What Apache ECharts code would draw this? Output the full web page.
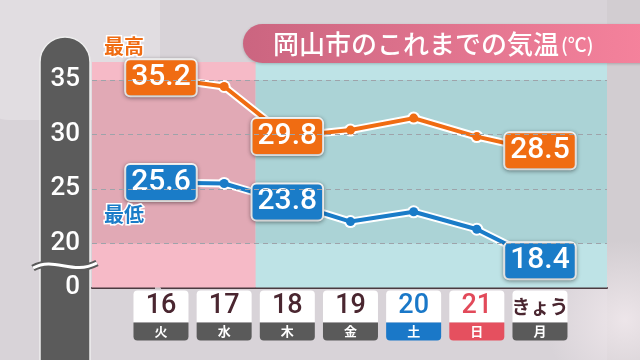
<!DOCTYPE html>
<html>
<head>
<meta charset="utf-8">
<script src="https://cdn.jsdelivr.net/npm/echarts@6/dist/echarts.min.js"></script>
<style>html,body{margin:0;padding:0;background:#d8d3d8;}#c{width:640px;height:360px;}</style>
</head>
<body>
<div id="c"></div>
<script>
// ---- data ----
const days = ['16', '17', '18', '19', '20', '21', 'きょう'];
const weekdays = ['火', '水', '木', '金', '土', '日', '月'];
const highs = [35.2, 34.4, 29.8, 30.4, 31.5, 29.8, 28.5];
const lows = [25.6, 25.5, 23.8, 22.0, 22.9, 21.3, 18.4];
const labeledIdx = [0, 2, 6];
const yTicks = [20, 25, 30, 35];
const yBreakLabel = '0';
const titleText = '岡山市のこれまでの気温';
const unitText = '(℃)';
const highName = '最高';
const lowName = '最低';

// ---- axis ranges ----
const X_MIN = -1.092, X_MAX = 7.061, SPLIT = 1.5;
const Y_MIN = 15.95, Y_MAX = 36.65;

const ORANGE = '#f06c12', BLUE = '#1a7cc8';
const NUMF = 'Roboto, "Noto Sans", sans-serif';
const JPF = '"Noto Sans CJK JP", sans-serif';

const idx = days.map((d, i) => i);
function pts(arr, color) {
  return arr.map((v, i) => {
    const o = { value: [i, v] };
    if (labeledIdx.indexOf(i) >= 0) {
      o.label = { show: true, backgroundColor: color };
    }
    return o;
  });
}
const labelBase = {
  show: false, position: 'inside', color: '#fff', fontSize: 30, fontWeight: 500,
  fontFamily: NUMF, borderColor: '#fff', borderWidth: 2, borderRadius: 4,
  padding: [3, 5, 1, 5], lineHeight: 31,
  shadowBlur: 4, shadowColor: 'rgba(0,0,0,0.35)', shadowOffsetY: 1,
  formatter: p => p.value[1].toFixed(1)
};

const chart = echarts.init(document.getElementById('c'));
chart.setOption({
  backgroundColor: '#d8d3d8',
  animation: false,
  grid: { left: 92, right: 33, top: 62, bottom: 72.5 },
  xAxis: {
    type: 'value', min: X_MIN, max: X_MAX,
    splitLine: { show: false },
    axisLine: { show: true, lineStyle: { color: '#4b3a40', width: 2 } },
    axisTick: { show: true, inside: true, length: 8, customValues: idx, lineStyle: { color: '#4b3a40', width: 2 } },
    axisLabel: {
      customValues: idx, margin: 3,
      formatter: v => {
        const i = Math.round(v);
        const n = i === 4 ? 'nb' : i === 5 ? 'nr' : (i === 6 ? 'k' : 'n');
        const w = i === 4 ? 'wb' : i === 5 ? 'wr' : 'w';
        return '{' + n + '|' + days[i] + '}\n{' + w + '|' + weekdays[i] + '}';
      },
      rich: {
        n: { width: 55, height: 32, lineHeight: 32, align: 'center', backgroundColor: '#fff', borderRadius: [4, 4, 0, 0], color: '#4a2630', fontSize: 27, fontFamily: NUMF, fontWeight: 500 },
        nb: { width: 55, height: 32, lineHeight: 32, align: 'center', backgroundColor: '#fff', borderRadius: [4, 4, 0, 0], color: '#1a78c8', fontSize: 27, fontFamily: NUMF, fontWeight: 500 },
        nr: { width: 55, height: 32, lineHeight: 32, align: 'center', backgroundColor: '#fff', borderRadius: [4, 4, 0, 0], color: '#e24a5a', fontSize: 27, fontFamily: NUMF, fontWeight: 500 },
        k: { width: 55, height: 32, lineHeight: 32, align: 'center', backgroundColor: '#fff', borderRadius: [4, 4, 0, 0], color: '#4a2630', fontSize: 19, fontFamily: JPF, fontWeight: 'bold' },
        w: { width: 55, height: 18, lineHeight: 18, align: 'center', backgroundColor: '#5a5a5a', borderRadius: [0, 0, 4, 4], color: '#fff', fontSize: 13, fontFamily: JPF, fontWeight: 'bold' },
        wb: { width: 55, height: 18, lineHeight: 18, align: 'center', backgroundColor: '#1a78c8', borderRadius: [0, 0, 4, 4], color: '#fff', fontSize: 13, fontFamily: JPF, fontWeight: 'bold' },
        wr: { width: 55, height: 18, lineHeight: 18, align: 'center', backgroundColor: '#e5505f', borderRadius: [0, 0, 4, 4], color: '#fff', fontSize: 13, fontFamily: JPF, fontWeight: 'bold' }
      }
    }
  },
  yAxis: {
    type: 'value', min: Y_MIN, max: Y_MAX, offset: 4,
    splitLine: { show: false },
    axisLine: { show: false },
    axisTick: { show: true, length: 6, customValues: [Y_MIN].concat(yTicks), lineStyle: { color: '#f0f0f0', width: 1.5 } },
    axisLabel: {
      customValues: [Y_MIN].concat(yTicks), margin: 8, color: '#fff', fontSize: 26,
      fontFamily: NUMF, fontWeight: 500,
      formatter: v => (v < yTicks[0] ? yBreakLabel : String(v))
    }
  },
  graphic: [
    { type: 'rect', z: -100, shape: { x: -30, y: -40, width: 190, height: 160, r: 40 }, style: { fill: '#e1dde1' } },
    { type: 'rect', z: -100, shape: { x: 607, y: 0, width: 33, height: 360 }, style: { fill: '#d2cdd1' } },
    { type: 'circle', z: -99, shape: { cx: 625, cy: 320, r: 80 },
      style: { fill: new echarts.graphic.RadialGradient(0.5, 0.5, 0.5, [{ offset: 0, color: 'rgba(240,232,236,0.9)' }, { offset: 1, color: 'rgba(240,232,236,0)' }]) } },
    { type: 'rect', z: -50, shape: { x: 40, y: 37, width: 50, height: 340, r: [25, 25, 0, 0] }, style: { fill: '#5b5b5b', stroke: '#eeeeee', lineWidth: 1.5 } },
    { type: 'bezierCurve', z: 100, shape: { x1: 33, y1: 268, cpx1: 55, cpy1: 256, cpx2: 72, cpy2: 276, x2: 97, y2: 263 }, style: { stroke: '#5b5b5b', lineWidth: 7, fill: null } },
    { type: 'bezierCurve', z: 101, shape: { x1: 33, y1: 268, cpx1: 55, cpy1: 256, cpx2: 72, cpy2: 276, x2: 97, y2: 263 }, style: { stroke: '#ffffff', lineWidth: 3, fill: null } },
    { type: 'rect', z: 100, shape: { x: 243, y: 24, width: 430, height: 39, r: 19.5 },
      style: { fill: new echarts.graphic.LinearGradient(0, 0, 1, 0, [{ offset: 0, color: '#cb6580' }, { offset: 1, color: '#f8849e' }]),
        shadowBlur: 3, shadowColor: 'rgba(0,0,0,0.2)', shadowOffsetY: 1 } },
    { type: 'text', z: 101, style: { text: titleText, x: 273, y: 44, verticalAlign: 'middle', fill: '#fff', font: '500 26px "Noto Sans CJK JP", sans-serif' } },
    { type: 'text', z: 101, style: { text: unitText, x: 561, y: 45, verticalAlign: 'middle', fill: '#fff', font: '500 19px "Noto Sans CJK JP", sans-serif' } },
    { type: 'text', z: 101, style: { text: highName, x: 104, y: 46, verticalAlign: 'middle', fill: ORANGE, stroke: '#fff', lineWidth: 3, font: 'bold 20px "Noto Sans CJK JP", sans-serif' } },
    { type: 'text', z: 101, style: { text: lowName, x: 104, y: 214, verticalAlign: 'middle', fill: BLUE, stroke: '#fff', lineWidth: 3, font: 'bold 20px "Noto Sans CJK JP", sans-serif' } }
  ],
  series: [
    {
      type: 'line', data: [[X_MIN, Y_MIN]], showSymbol: false, lineStyle: { opacity: 0 }, silent: true, z: 1,
      markArea: {
        silent: true,
        data: [
          [{ xAxis: X_MIN, yAxis: Y_MIN, itemStyle: { color: '#f6bac7' } }, { xAxis: SPLIT, yAxis: Y_MAX }],
          [{ xAxis: X_MIN, yAxis: yTicks[0], itemStyle: { color: '#e1a9b5' } }, { xAxis: SPLIT, yAxis: yTicks[3] }],
          [{ xAxis: SPLIT, yAxis: Y_MIN, itemStyle: { color: '#bee3e6' } }, { xAxis: X_MAX, yAxis: Y_MAX }],
          [{ xAxis: SPLIT, yAxis: yTicks[0], itemStyle: { color: '#abd3d6' } }, { xAxis: X_MAX, yAxis: yTicks[3] }]
        ]
      },
      markLine: {
        silent: true, symbol: ['none', 'none'], label: { show: false },
        lineStyle: { type: [5, 4], color: '#9ea3aa', width: 1 },
        data: yTicks.map(v => ({ yAxis: v }))
      }
    },
    { type: 'line', data: highs.map((v, i) => [i, v]), symbol: 'circle', symbolSize: 13, itemStyle: { color: '#fff' }, lineStyle: { color: '#fff', width: 8 }, silent: true, z: 3 },
    { type: 'line', data: lows.map((v, i) => [i, v]), symbol: 'circle', symbolSize: 13, itemStyle: { color: '#fff' }, lineStyle: { color: '#fff', width: 8 }, silent: true, z: 3 },
    { type: 'line', data: pts(highs, ORANGE), symbol: 'circle', symbolSize: 9, itemStyle: { color: ORANGE }, lineStyle: { color: ORANGE, width: 4 }, label: labelBase, z: 4 },
    { type: 'line', data: pts(lows, BLUE), symbol: 'circle', symbolSize: 9, itemStyle: { color: BLUE }, lineStyle: { color: BLUE, width: 4 }, label: labelBase, z: 4 }
  ]
});
</script>
</body>
</html>
